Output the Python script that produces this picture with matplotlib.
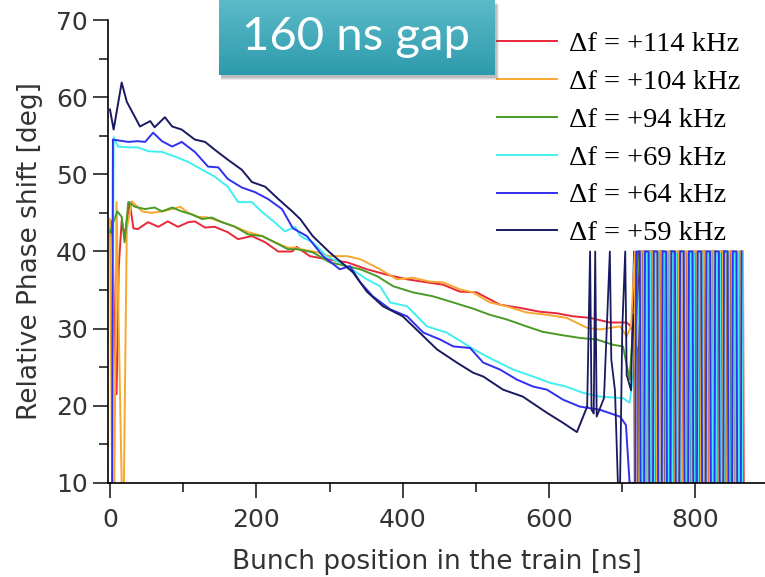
import numpy as np
import matplotlib
matplotlib.use('Agg')
import matplotlib.pyplot as plt

# Phase shift along the bunch train, one trace per frequency offset
labels = ['Δf = +114 kHz', 'Δf = +104 kHz', 'Δf = +94 kHz',
          'Δf = +69 kHz', 'Δf = +64 kHz', 'Δf = +59 kHz']
colors = ['#e8283a', '#f8a830', '#4a9a28', '#40f0f0', '#3030f0', '#1a1a60']

# +114 kHz
x_114 = [0, 3, 6, 9, 12, 16, 20, 27, 32, 38, 52, 66, 79, 93, 107, 116, 130, 143,
         161, 175, 194, 212, 230, 249, 255, 273, 296, 324, 351, 378, 406, 433, 455,
         478, 501, 533, 560, 587, 610, 633, 656, 683, 706, 714]
y_114 = [42.0, 44.0, 30.0, 21.5, 38.0, 44.0, 42.0, 46.4, 43.0, 42.9, 43.8, 43.2, 43.9,
         43.2, 43.8, 43.9, 43.1, 43.2, 42.5, 41.6, 42.0, 41.2, 40.0, 40.0, 40.6, 39.4,
         39.0, 38.6, 37.7, 37.0, 36.4, 36.0, 35.7, 34.8, 34.7, 33.1, 32.7, 32.2, 32.0,
         31.6, 31.4, 30.8, 30.8, 30.1]
xt_114 = [721, 722, 727, 728, 733, 734, 739, 740, 745, 746,
          751, 752, 757, 758, 763, 764, 769, 770, 775, 776,
          781, 782, 787, 788, 793, 794, 799, 800, 805, 806,
          811, 812, 817, 818, 823, 824, 829, 830, 835, 836,
          841, 842, 847, 848, 853, 854, 859, 860, 865, 866]
yt_114 = [40, 10, 10, 40, 40, 10, 10, 40, 40, 10,
          10, 40, 40, 10, 10, 40, 40, 10, 10, 40,
          40, 10, 10, 40, 40, 10, 10, 40, 40, 10,
          10, 40, 40, 10, 10, 40, 40, 10, 10, 40,
          40, 10, 10, 40, 40, 10, 10, 40, 40, 10]

# +104 kHz
x_104 = [0, 3, 6, 9, 12, 16, 19, 23, 30, 44, 57, 71, 85, 96, 107, 120, 134, 153, 171,
         189, 208, 225, 243, 253, 260, 283, 300, 324, 342, 369, 392, 414, 437, 455,
         478, 496, 519, 542, 569, 597, 624, 652, 669, 697, 706, 712]
y_104 = [44.2, 10, 10, 46.4, 30.0, 10, 10, 43.0, 46.5, 45.2, 45.0, 45.2, 45.5, 45.8,
         45.0, 44.5, 44.4, 43.8, 43.2, 42.5, 42.0, 41.2, 40.5, 40.5, 40.3, 39.9, 39.4,
         39.4, 39.0, 37.7, 36.4, 36.6, 36.1, 36.0, 35.1, 34.7, 33.4, 32.9, 32.1, 31.8,
         31.4, 30.1, 29.9, 30.3, 29.0, 30.3]
xt_104 = [717, 718, 723, 724, 729, 730, 735, 736, 741, 742,
          747, 748, 753, 754, 759, 760, 765, 766, 771, 772,
          777, 778, 783, 784, 789, 790, 795, 796, 801, 802,
          807, 808, 813, 814, 819, 820, 825, 826, 831, 832,
          837, 838, 843, 844, 849, 850, 855, 856, 861, 862]
yt_104 = [40, 10, 10, 40, 40, 10, 10, 40, 40, 10,
          10, 40, 40, 10, 10, 40, 40, 10, 10, 40,
          40, 10, 10, 40, 40, 10, 10, 40, 40, 10,
          10, 40, 40, 10, 10, 40, 40, 10, 10, 40,
          40, 10, 10, 40, 40, 10, 10, 40, 40, 10]

# +94 kHz
x_94 = [0, 10, 16, 20, 25, 34, 48, 61, 71, 85, 98, 112, 126, 139, 153, 171, 189, 208,
        225, 243, 255, 277, 300, 324, 342, 365, 387, 414, 441, 469, 496, 519, 542,
        569, 591, 615, 642, 665, 688, 701, 710, 716]
y_94 = [42.5, 45.2, 44.5, 41.2, 46.4, 45.8, 45.5, 45.7, 45.2, 45.7, 45.2, 44.8, 44.2,
        44.4, 43.8, 43.2, 42.2, 42.0, 41.2, 40.3, 40.3, 39.9, 38.6, 38.1, 37.7, 36.8,
        35.5, 34.7, 34.2, 33.4, 32.6, 31.8, 31.2, 30.3, 29.6, 29.2, 28.8, 28.6, 27.9,
        27.7, 23.4, 32.0]
xt_94 = [724, 725, 730, 731, 736, 737, 742, 743, 748, 749,
         754, 755, 760, 761, 766, 767, 772, 773, 778, 779,
         784, 785, 790, 791, 796, 797, 802, 803, 808, 809,
         814, 815, 820, 821, 826, 827, 832, 833, 838, 839,
         844, 845, 850, 851, 856, 857, 862, 863]
yt_94 = [40, 10, 10, 40, 40, 10, 10, 40, 40, 10,
         10, 40, 40, 10, 10, 40, 40, 10, 10, 40,
         40, 10, 10, 40, 40, 10, 10, 40, 40, 10,
         10, 40, 40, 10, 10, 40, 40, 10, 10, 40,
         40, 10, 10, 40, 40, 10, 10, 40]

# +69 kHz
x_69 = [0, 3, 5, 11, 25, 38, 52, 71, 89, 107, 126, 143, 161, 175, 194, 208, 225, 239,
        253, 260, 277, 296, 324, 351, 369, 383, 406, 433, 460, 482, 501, 523, 551,
        578, 601, 623, 646, 669, 701, 710, 720]
y_69 = [10, 10, 54.8, 53.6, 53.5, 53.5, 53.0, 52.9, 52.3, 51.6, 50.6, 49.7, 48.4, 46.4,
        46.4, 45.1, 43.8, 42.6, 43.2, 42.0, 41.2, 39.4, 38.1, 36.4, 35.5, 33.4, 32.9,
        30.3, 29.5, 28.2, 27.1, 26.0, 24.7, 23.8, 23.0, 22.5, 21.7, 21.2, 21.0, 20.4,
        27.7]
xt_69 = [726, 727, 732, 733, 738, 739, 744, 745, 750, 751,
         756, 757, 762, 763, 768, 769, 774, 775, 780, 781,
         786, 787, 792, 793, 798, 799, 804, 805, 810, 811,
         816, 817, 822, 823, 828, 829, 834, 835, 840, 841,
         846, 847, 852, 853, 858, 859, 864, 865]
yt_69 = [40, 10, 10, 40, 40, 10, 10, 40, 40, 10,
         10, 40, 40, 10, 10, 40, 40, 10, 10, 40,
         40, 10, 10, 40, 40, 10, 10, 40, 40, 10,
         10, 40, 40, 10, 10, 40, 40, 10, 10, 40,
         40, 10, 10, 40, 40, 10, 10, 40]

# +64 kHz
x_64 = [0, 3, 4, 25, 38, 48, 59, 71, 85, 98, 116, 134, 148, 161, 180, 198, 216, 235,
        250, 269, 291, 314, 328, 342, 359, 383, 406, 428, 451, 469, 492, 510, 533,
        556, 578, 597, 619, 642, 669, 697, 705, 710]
y_64 = [10, 10, 54.5, 54.2, 54.3, 54.2, 55.4, 54.3, 53.6, 54.2, 52.9, 51.0, 50.9, 49.4,
        48.3, 47.7, 46.8, 45.5, 43.0, 42.0, 39.4, 37.7, 38.1, 36.0, 34.2, 32.5, 31.6,
        29.5, 28.6, 27.7, 27.5, 25.6, 24.7, 23.4, 22.5, 22.1, 20.8, 19.9, 19.5, 18.6,
        17.5, 10]
xt_64 = [718, 719, 724, 725, 730, 731, 736, 737, 742, 743,
         748, 749, 754, 755, 760, 761, 766, 767, 772, 773,
         778, 779, 784, 785, 790, 791, 796, 797, 802, 803,
         808, 809, 814, 815, 820, 821, 826, 827, 832, 833,
         838, 839, 844, 845, 850, 851, 856, 857, 862, 863]
yt_64 = [10, 40, 40, 10, 10, 40, 40, 10, 10, 40,
         40, 10, 10, 40, 40, 10, 10, 40, 40, 10,
         10, 40, 40, 10, 10, 40, 40, 10, 10, 40,
         40, 10, 10, 40, 40, 10, 10, 40, 40, 10,
         10, 40, 40, 10, 10, 40, 40, 10, 10, 40]

# +59 kHz
x_59 = [0, 5, 16, 23, 41, 55, 61, 75, 85, 98, 116, 130, 143, 161, 180, 194, 212, 230,
        249, 260, 277, 300, 332, 351, 373, 400, 423, 447, 474, 496, 510, 537, 564,
        597, 619, 638, 652]
y_59 = [58.4, 55.8, 61.9, 59.4, 56.2, 56.9, 56.1, 57.4, 56.2, 55.8, 54.5, 54.2, 53.2,
        51.9, 50.6, 49.0, 48.4, 46.8, 45.2, 44.2, 42.0, 39.9, 37.3, 34.8, 32.9, 31.6,
        29.5, 27.3, 25.6, 24.3, 23.8, 22.1, 21.2, 19.1, 17.8, 16.6, 19.9]
xt_59 = [656, 658, 661, 663, 665, 675, 683, 685, 690, 694, 697, 700, 704, 706, 712,
         716, 717, 722, 723, 729, 730, 736, 737, 743, 744,
         750, 751, 757, 758, 764, 765, 771, 772, 778, 779,
         785, 786, 792, 793, 799, 800, 806, 807, 813, 814,
         820, 821, 827, 828, 834, 835, 841, 842, 848, 849]
yt_59 = [40, 19.5, 19.0, 40, 18.6, 21.0, 40, 26.0, 22.0, 10, 10, 30.0, 40, 24.0, 22.0,
         40, 10, 10, 40, 40, 10, 10, 40, 40, 10,
         10, 40, 40, 10, 10, 40, 40, 10, 10, 40,
         40, 10, 10, 40, 40, 10, 10, 40, 40, 10,
         10, 40, 40, 10, 10, 40, 40, 10, 10, 40]

bodies = [(x_114, y_114), (x_104, y_104), (x_94, y_94),
          (x_69, y_69), (x_64, y_64), (x_59, y_59)]
tails = [(xt_114, yt_114), (xt_104, yt_104), (xt_94, yt_94),
         (xt_69, yt_69), (xt_64, yt_64), (xt_59, yt_59)]

W, H = 765, 577
fig = plt.figure(figsize=(W / 100, H / 100), dpi=100)
ax = fig.add_axes([108 / W, (H - 483) / H, (W - 108) / W, (483 - 20) / H])

# 1. Traces: smooth part in legend order, noisy tail in a mixed order so
#    no single colour hides the others
for (xs, ys), lab, col in zip(bodies, labels, colors):
    ax.plot(xs, ys, color=col, lw=1.4, label=lab)
for i in [0, 5, 2, 3, 1, 4]:
    (xs, ys), (xt, yt) = bodies[i], tails[i]
    ax.plot(xs[-1:] + xt, ys[-1:] + yt, color=colors[i], lw=1.3)

# 2. Axes formatting
ax.set_xlim(-2.7, 895)
ax.set_ylim(10, 70)
ax.set_xticks([0, 200, 400, 600, 800])
ax.set_xticks([100, 300, 500, 700], minor=True)
ax.set_yticks(np.arange(10, 71, 10))
ax.set_yticks(np.arange(15, 70, 10), minor=True)
for s in ['top', 'right']:
    ax.spines[s].set_visible(False)
for s in ['left', 'bottom']:
    ax.spines[s].set_linewidth(1.2)
ax.tick_params(which='major', direction='out', length=11, width=1.2,
               labelsize=18, colors='#222222', labelcolor='#333333')
ax.tick_params(which='minor', direction='out', length=6.5, width=1.2, colors='#222222')
ax.tick_params(axis='x', pad=7)
ax.set_xlabel('Bunch position in the train [ns]', fontsize=19, color='#333333', labelpad=12)
ax.set_ylabel('Relative Phase shift [deg]', fontsize=19, color='#333333', labelpad=9)

# 3. Legend, serif like the original plot
ax.legend(loc='upper left', bbox_to_anchor=(497 / W, 1 - 31 / H),
          bbox_transform=fig.transFigure, frameon=False, borderpad=0,
          borderaxespad=0, handlelength=2.1, handletextpad=0.42,
          labelspacing=0.42, prop={'family': 'Liberation Serif', 'size': 20.5})

# 4. Teal title box with soft shadow
bx0, bx1, by0, by1 = 219 / W, 494 / W, 1 - 75 / H, 1.0
for k, a in enumerate([0.10, 0.14, 0.20]):
    off = (3 - k) / W
    fig.patches.append(plt.Rectangle((bx0 + 2 / W, by0 - (5 - k) / H),
                                     bx1 - bx0 + off, by1 - by0,
                                     transform=fig.transFigure, color='#555555',
                                     alpha=a, lw=0, zorder=5))
bax = fig.add_axes([bx0, by0, bx1 - bx0, by1 - by0], zorder=6)
grad = np.linspace(0, 1, 64).reshape(-1, 1)
cmap = matplotlib.colors.LinearSegmentedColormap.from_list('teal', ['#5cbac8', '#2d9bad'])
bax.imshow(grad, aspect='auto', cmap=cmap, extent=(0, 1, 0, 1), origin='upper')
bax.set_axis_off()
bax.text(0.5, 0.5, '160 ns gap', color='white', fontsize=34, family='Lato',
         ha='center', va='center', transform=bax.transAxes)

plt.savefig('out.png', dpi=100)
